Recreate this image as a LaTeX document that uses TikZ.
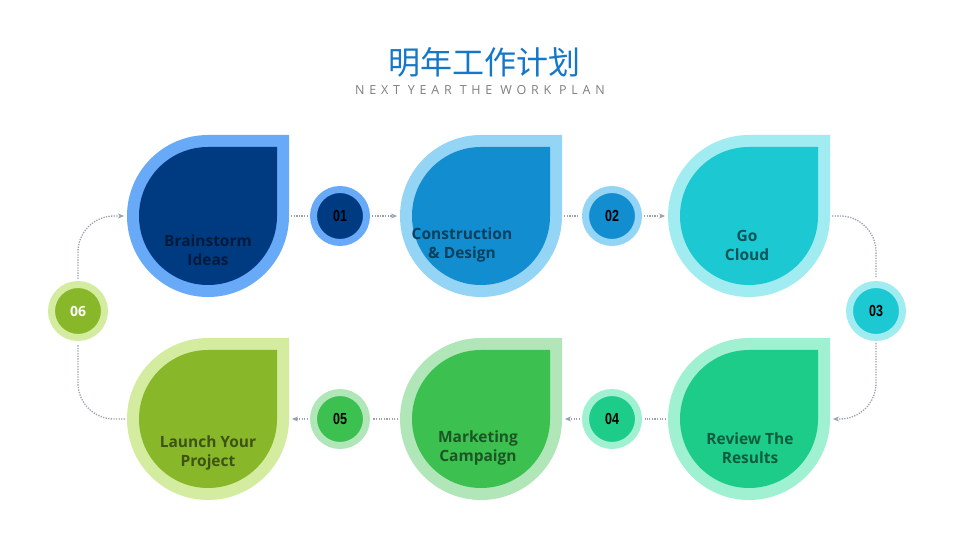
\documentclass[tikz,border=0pt]{standalone}
\usepackage{fontspec}
\setmainfont{Open Sans}
\newfontfamily\cjk{Noto Sans CJK SC}
\newfontfamily\numfont{Liberation Sans}[FakeStretch=0.78]
\usetikzlibrary{arrows.meta}
\usetikzlibrary{positioning}

\definecolor{titleblue}{HTML}{1577C8}
\definecolor{subgray}{HTML}{7F7F7F}
\definecolor{linegray}{HTML}{9AA2AE}
\definecolor{oneout}{HTML}{69AAF8}
\definecolor{onein}{HTML}{003B82}
\definecolor{twoout}{HTML}{94D4F5}
\definecolor{twoin}{HTML}{128ED0}
\definecolor{threeout}{HTML}{A0ECF0}
\definecolor{threein}{HTML}{1CC8D2}
\definecolor{fourout}{HTML}{A0F0D2}
\definecolor{fourin}{HTML}{1ECC8A}
\definecolor{fiveout}{HTML}{B0E6B8}
\definecolor{fivein}{HTML}{3CC050}
\definecolor{sixout}{HTML}{D4ECA0}
\definecolor{sixin}{HTML}{88B82A}

\begin{document}
\begin{tikzpicture}[x=1pt,y=1pt,
    petal/.style 2 args={rectangle,minimum size=162,inner sep=0,outer sep=0,
        path picture={
            \fill[#1] (path picture bounding box.north east) -- (path picture bounding box.east)
                arc (0:-270:81) -- cycle;
            \fill[#2] ([shift={(69,69)}]path picture bounding box.center) -- ++(0,-69)
                arc (0:-270:69) -- cycle;
        }},
    ptext/.style={align=center,font=\bfseries\fontsize{15.5}{19}\selectfont},
    num/.style 2 args={circle,draw=#1,fill=#2,line width=7,minimum size=53,inner sep=0,
        font=\numfont\bfseries\fontsize{16}{16}\selectfont},
    flow/.style={draw=linegray,line width=1.3,dash pattern=on 1.3 off 1.3,
        shorten <=2,shorten >=3},
    arr/.style={-{Stealth[length=6,width=5]}},
    turn/.style={rounded corners=36}]
    \fill[white] (0,0) rectangle (960,548);
    \useasboundingbox (0,0) rectangle (960,548);

    % heading
    \node[font=\cjk\fontsize{32}{34}\selectfont,text=titleblue] (title) at (484,486) {明年工作计划};
    \node[font=\fontsize{12.5}{14}\selectfont\addfontfeatures{LetterSpace=38},text=subgray]
        (subtitle) at (480,458) {NEXT YEAR THE WORK PLAN};

    % petals
    \node[petal={oneout}{onein}]     (p1) at (208,332) {};
    \node[petal={twoout}{twoin}]     (p2) at (481,332) {};
    \node[petal={threeout}{threein}] (p3) at (749,332) {};
    \node[petal={fourout}{fourin}]   (p4) at (749,129) {};
    \node[petal={fiveout}{fivein}]   (p5) at (481,129) {};
    \node[petal={sixout}{sixin}]     (p6) at (208,129) {};

    \node[ptext,text=onein!45!black]   (t1) at (208,298) {Brainstorm\\Ideas};
    \node[ptext,text=twoin!45!black]   (t2) at (462,303) {Construction\\\& Design};
    \node[ptext,text=threein!42!black] (t3) at (747,303) {Go\\Cloud};
    \node[ptext,text=fourin!45!black]  (t4) at (750,100) {Review The\\Results};
    \node[ptext,text=fivein!45!black]  (t5) at (478,100) {Marketing\\Campaign};
    \node[ptext,text=sixin!45!black]   (t6) at (208,95)  {Launch Your\\Project};

    % step numbers
    \node[num={oneout}{onein}]     (c1) at (340,332) {01};
    \node[num={twoout}{twoin}]     (c2) at (612,332) {02};
    \node[num={threeout}{threein}] (c3) at (876,237) {03};
    \node[num={fourout}{fourin}]   (c4) at (612,129) {04};
    \node[num={fiveout}{fivein}]   (c5) at (340,129) {05};
    \node[num={sixout}{sixin},text=white,font=\bfseries\fontsize{14}{14}\selectfont] (c6) at (78,237) {06};

    % connectors
    \path[flow]
    (p1) edge (c1)
    (c1) edge[arr] (p2)
    (p2) edge (c2)
    (c2) edge[arr] (p3)
    (p4) edge (c4)
    (c4) edge[arr] (p5)
    (p5) edge (c5)
    (c5) edge[arr] (p6);
    \draw[flow,turn] (p3.east) -| (c3.north);
    \draw[flow,turn,arr] (c3.south) |- (p4.east);
    \draw[flow,turn] (p6.west) -| (c6.south);
    \draw[flow,turn,arr] (c6.north) |- (p1.west);
\end{tikzpicture}
\end{document}
